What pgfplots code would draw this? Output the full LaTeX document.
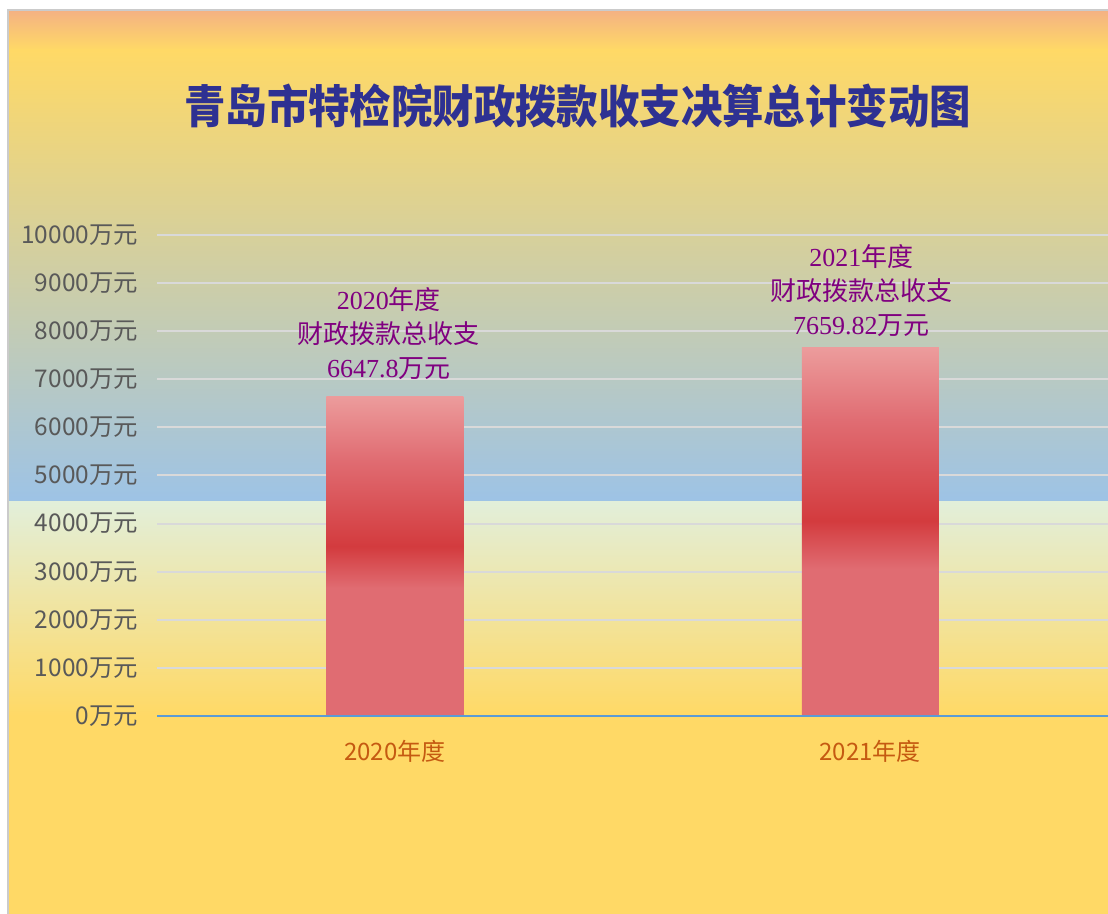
\documentclass[border=0pt]{standalone}
\usepackage{fontspec}
\usepackage{pgfplots}
\pgfplotsset{compat=1.18}
\newfontfamily\cjk{Noto Sans CJK SC}
\newfontfamily\lat{Liberation Serif}
\definecolor{bgsalmon}{HTML}{F4B183}
\definecolor{bgyellow}{HTML}{FFD966}
\definecolor{bgblue}{HTML}{9DC3E6}
\definecolor{bggreen}{HTML}{E2EFDA}
\definecolor{barpink}{HTML}{EC9C9C}
\definecolor{barrose}{HTML}{E06C72}
\definecolor{barred}{HTML}{D33B3E}
\definecolor{titleblue}{HTML}{2E3192}
\definecolor{lblpurple}{HTML}{800080}
\definecolor{tickgray}{HTML}{595959}
\definecolor{xtk}{HTML}{C55A11}
\definecolor{gridc}{HTML}{D9D9D9}
\definecolor{axblue}{HTML}{5B9BD5}
\pgfdeclareverticalshading{barshade}{100bp}{color(0bp)=(barrose); color(25bp)=(barrose); color(45bp)=(barrose); color(51.5bp)=(barred); color(65bp)=(barrose); color(75bp)=(barpink); color(100bp)=(barpink)}
\begin{document}
\begin{tikzpicture}
\path[use as bounding box] (0,0) rectangle (554pt,457pt);
\fill[white] (0,0) rectangle (554pt,457pt);
% background bands
\shade[top color=bgsalmon, bottom color=bgyellow] (4pt,431.8pt) rectangle (556pt,452pt);
\shade[top color=bgyellow, bottom color=bgblue] (4pt,206pt) rectangle (556pt,432pt);
\shade[top color=bggreen, bottom color=bgyellow] (4pt,99.5pt) rectangle (556pt,206.2pt);
\fill[bgyellow] (4pt,-2pt) rectangle (556pt,99.6pt);
\draw[gridc!85!gray, line width=1pt] (4pt,-5pt) |- (560pt,452pt);
% title
\node[titleblue, font=\cjk\bfseries\fontsize{20.7}{24}\selectfont] at (288.75pt,404pt) {\scalebox{1}[1.1]{青岛市特检院财政拨款收支决算总计变动图}};
\begin{axis}[
  at={(78.5pt,99pt)}, anchor=south west,
  scale only axis, width=475.5pt, height=240.5pt,
  xmin=-0.5, xmax=1.5, ymin=0, ymax=10000,
  clip=false,
  ybar, bar width=68.5pt,
  axis line style={draw=none},
  major tick length=0pt,
  scaled y ticks=false,
  xtick={0,1}, xticklabels={2020年度,2021年度},
  ytick={0,1000,...,10000},
  yticklabels={0万元,1000万元,2000万元,3000万元,4000万元,5000万元,6000万元,7000万元,8000万元,9000万元,10000万元},
  ymajorgrids, grid style={gridc, line width=1pt},
  yticklabel style={font=\cjk\fontsize{12.2}{13}\selectfont, text=tickgray, xshift=-6pt},
  xticklabel style={font=\cjk\fontsize{12}{13}\selectfont, text=xtk, anchor=center, yshift=-17.5pt},
]
\addplot[ybar, bar shift=0pt, draw=none, shading=barshade] coordinates {(0,6647.8)};
\addplot[ybar, bar shift=0pt, draw=none, shading=barshade] coordinates {(1,7659.82)};
\draw[axblue, line width=1pt] (axis cs:-0.5,0) -- (axis cs:1.5,0);
\node[text=lblpurple, align=center, font=\fontsize{13}{17}\selectfont, xshift=-3pt, yshift=31.5pt] at (axis cs:0,6647.8) {{\lat 2020}{\cjk 年度}\\{\cjk 财政拨款总收支}\\{\lat 6647.8}{\cjk 万元}};
\node[text=lblpurple, align=center, font=\fontsize{13}{17}\selectfont, xshift=-4.5pt, yshift=28.5pt] at (axis cs:1,7659.82) {{\lat 2021}{\cjk 年度}\\{\cjk 财政拨款总收支}\\{\lat 7659.82}{\cjk 万元}};
\end{axis}
\end{tikzpicture}
\end{document}
